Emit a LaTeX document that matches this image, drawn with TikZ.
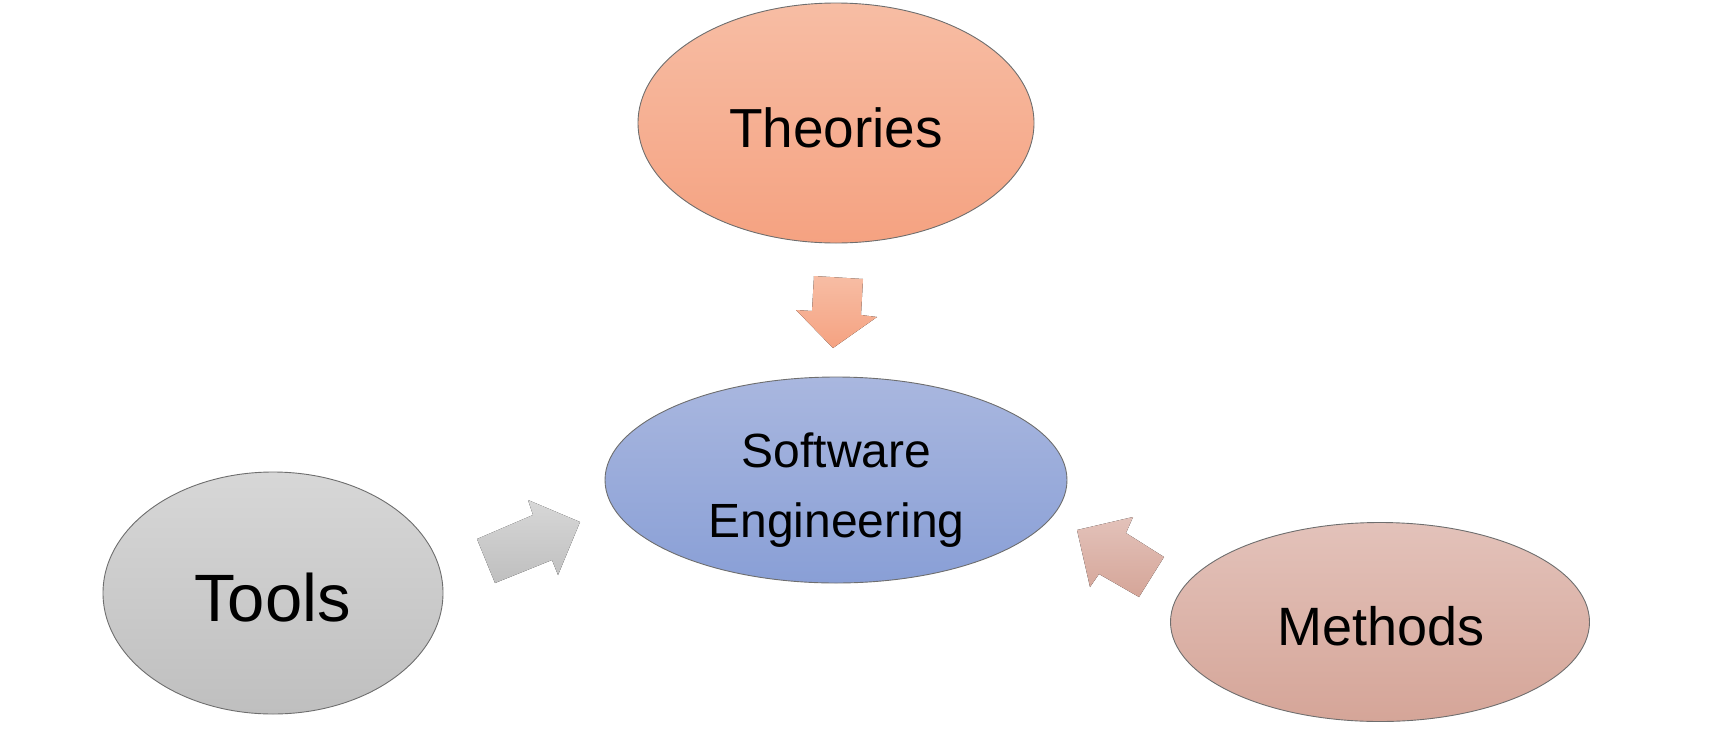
\documentclass[tikz,border=0pt]{standalone}
\usepackage{fontspec}
\setmainfont{Liberation Sans}
\usetikzlibrary{shapes.geometric}
\definecolor{thtop}{HTML}{F7BDA4}
\definecolor{thbot}{HTML}{F5A281}
\definecolor{setop}{HTML}{A9B7DF}
\definecolor{sebot}{HTML}{899FD6}
\definecolor{totop}{HTML}{D7D7D7}
\definecolor{tobot}{HTML}{BFBFBF}
\definecolor{metop}{HTML}{E3C2BA}
\definecolor{mebot}{HTML}{D5A598}
\definecolor{edge}{HTML}{6E6E6E}
\tikzset{
  bubble/.style={ellipse, draw=edge, line width=0.9pt, inner sep=0pt},
  txt/.style={anchor=base, inner sep=0pt, text=black},
  blockarrow/.style={draw=none}
}
\begin{document}
\begin{tikzpicture}[x=1pt,y=-1pt]
\useasboundingbox (0,0) rectangle (1714,753);
\node[bubble, minimum width=396pt, minimum height=240pt, top color=thtop, bottom color=thbot] (theo) at (836,123) {};
\node[bubble, minimum width=462pt, minimum height=206pt, top color=setop, bottom color=sebot] (se) at (836,480) {};
\node[bubble, minimum width=340pt, minimum height=242pt, top color=totop, bottom color=tobot] (tools) at (273,593) {};
\node[bubble, minimum width=419pt, minimum height=199pt, top color=metop, bottom color=mebot] (meth) at (1380,622) {};
\node[txt, font=\fontsize{55}{60}\selectfont] (theo-t) at (836,147) {Theories};
\node[txt, font=\fontsize{48}{56}\selectfont] (se-t1) at (836.5,467) {Software};
\node[txt, font=\fontsize{48}{56}\selectfont] (se-t2) at (836.5,537) {Engineering};
\node[txt, font=\fontsize{67}{72}\selectfont] (tools-t) at (272.5,621) {Tools};
\node[txt, font=\fontsize{54}{60}\selectfont] (meth-t) at (1381,645) {Methods};
% block arrows
\fill[blockarrow, top color=thtop, bottom color=thbot]
  (814,276) -- (863,279) -- (861,315) -- (877,317) -- (833,348) -- (796,310) -- (812,311) -- cycle;
\fill[blockarrow, top color=totop, bottom color=tobot]
  (477,539) -- (533,515) -- (528,500) -- (580,522) -- (558,575) -- (552,560) -- (495,583) -- cycle;
\fill[blockarrow, top color=metop, bottom color=mebot]
  (1077,530) -- (1133,517) -- (1126,533) -- (1164,557) -- (1139,597) -- (1099,574) -- (1090,587) -- cycle;
\end{tikzpicture}
\end{document}
